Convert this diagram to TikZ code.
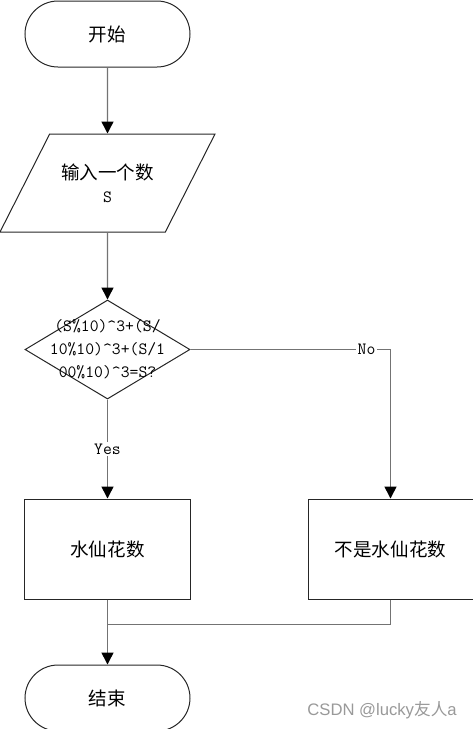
\documentclass[tikz,border=0pt]{standalone}
\usepackage{fontspec}
\setmainfont{Noto Sans CJK SC}
\newfontfamily\cjk{Noto Sans CJK SC}
\newfontfamily\wmfont{Liberation Sans}
\usepackage{tikz}
\usetikzlibrary{positioning,arrows.meta,shapes.geometric}

\begin{document}
\begin{tikzpicture}[
  node distance=49.5pt and 87.75pt,
  block/.style={rectangle, draw=black!85, line width=0.75pt, minimum width=123.75pt, minimum height=75pt, align=center, inner sep=0pt, font=\cjk\fontsize{13.9pt}{17.25pt}\selectfont},
  term/.style={block, rounded corners=24.75pt, minimum height=49.5pt},
  io/.style={block, trapezium, trapezium left angle=63, trapezium right angle=117, trapezium stretches body=true, inner ysep=22pt, minimum width=161.25pt, minimum height=73.5pt},
  decision/.style={diamond, draw=black!85, line width=0.75pt, minimum width=123.75pt, minimum height=74.25pt, inner sep=0pt},
  cond/.style={align=center, inner sep=0pt, font=\ttfamily\fontsize{12.9pt}{17.25pt}\selectfont},
  lbl/.style={fill=white, text=black, inner sep=1pt, font=\ttfamily\fontsize{12.9pt}{14pt}\selectfont},
  arrow/.style={-{Triangle[length=9pt, width=9pt, color=black]}, line width=1.1pt, black!55},
  line/.style={line width=1.1pt, black!55},
  wmark/.style={font=\wmfont\fontsize{12.5pt}{15pt}\selectfont, text=black!40},
]

\useasboundingbox (-80.625pt,25.5pt) rectangle (273.375pt,-521.25pt);

% Start and input
\node[term] (start) at (0,0) {开始};
\node[io, below=of start] (input) {输入一个数\\{\ttfamily\fontsize{12.9pt}{17.25pt}\selectfont S}};

% Condition
\node[decision, below=50.25pt of input] (dec) {};
\node[cond] (condtext) at (dec.center) {(S\%10)\textasciicircum3+(S/\\10\%10)\textasciicircum3+(S/1\\00\%10)\textasciicircum3=S?};

% Results
\node[block, below=74.25pt of dec] (yes) {水仙花数};
\node[block, right=of yes] (no) {不是水仙花数};

% End
\node[term, below=48.75pt of yes] (end) {结束};
\coordinate[below=18.75pt of yes] (join);

% Watermark
\node[wmark] (csdn) at (205.9pt,-507pt) {CSDN @lucky{\cjk 友人}a};

% Arrows
\draw[arrow] (start) -- (input);
\draw[arrow] (input) -- (dec);
\draw[arrow] (dec) -- node[lbl] {Yes} (yes);
\draw[arrow] (dec) -| node[lbl, pos=0.44] {No} (no);
\draw[line] (no) |- (join);
\draw[arrow] (yes) -- (end);

\end{tikzpicture}
\end{document}
